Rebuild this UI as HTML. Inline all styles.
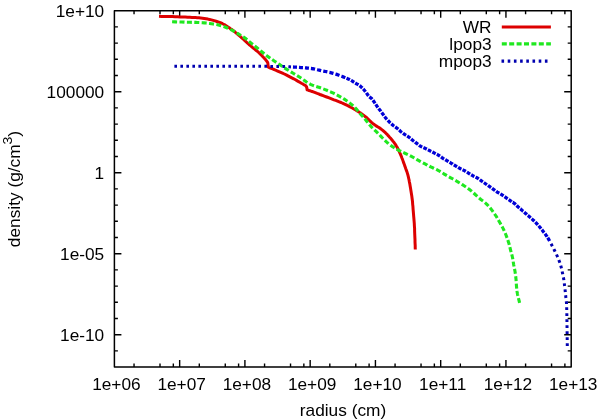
<!DOCTYPE html>
<html><head><meta charset="utf-8"><style>
html,body{margin:0;padding:0;background:#fff;width:600px;height:420px;overflow:hidden}
svg{display:block}
text{font-family:"Liberation Sans",sans-serif;font-size:16.0px;fill:#000}
svg{will-change:transform}
</style></head><body>
<svg width="600" height="420" viewBox="0 0 600 420">
<rect width="600" height="420" fill="#fff"/>
<g fill="none" stroke-linejoin="round">
<path d="M134.04 367.10v-3.5M134.04 10.70v3.5M160.01 367.10v-3.5M160.01 10.70v3.5M173.33 367.10v-3.5M173.33 10.70v3.5M179.66 367.10v-7.0M179.66 10.70v7.0M199.30 367.10v-3.5M199.30 10.70v3.5M225.27 367.10v-3.5M225.27 10.70v3.5M238.59 367.10v-3.5M238.59 10.70v3.5M244.91 367.10v-7.0M244.91 10.70v7.0M264.56 367.10v-3.5M264.56 10.70v3.5M290.53 367.10v-3.5M290.53 10.70v3.5M303.85 367.10v-3.5M303.85 10.70v3.5M310.17 367.10v-7.0M310.17 10.70v7.0M329.82 367.10v-3.5M329.82 10.70v3.5M355.78 367.10v-3.5M355.78 10.70v3.5M369.10 367.10v-3.5M369.10 10.70v3.5M375.43 367.10v-7.0M375.43 10.70v7.0M395.07 367.10v-3.5M395.07 10.70v3.5M421.04 367.10v-3.5M421.04 10.70v3.5M434.36 367.10v-3.5M434.36 10.70v3.5M440.69 367.10v-7.0M440.69 10.70v7.0M460.33 367.10v-3.5M460.33 10.70v3.5M486.30 367.10v-3.5M486.30 10.70v3.5M499.62 367.10v-3.5M499.62 10.70v3.5M505.94 367.10v-7.0M505.94 10.70v7.0M525.59 367.10v-3.5M525.59 10.70v3.5M551.56 367.10v-3.5M551.56 10.70v3.5M564.88 367.10v-3.5M564.88 10.70v3.5M114.40 26.90h3.5M571.20 26.90h-3.5M114.40 43.10h3.5M571.20 43.10h-3.5M114.40 59.30h3.5M571.20 59.30h-3.5M114.40 75.50h3.5M571.20 75.50h-3.5M114.40 91.70h7.0M571.20 91.70h-7.0M114.40 107.90h3.5M571.20 107.90h-3.5M114.40 124.10h3.5M571.20 124.10h-3.5M114.40 140.30h3.5M571.20 140.30h-3.5M114.40 156.50h3.5M571.20 156.50h-3.5M114.40 172.70h7.0M571.20 172.70h-7.0M114.40 188.90h3.5M571.20 188.90h-3.5M114.40 205.10h3.5M571.20 205.10h-3.5M114.40 221.30h3.5M571.20 221.30h-3.5M114.40 237.50h3.5M571.20 237.50h-3.5M114.40 253.70h7.0M571.20 253.70h-7.0M114.40 269.90h3.5M571.20 269.90h-3.5M114.40 286.10h3.5M571.20 286.10h-3.5M114.40 302.30h3.5M571.20 302.30h-3.5M114.40 318.50h3.5M571.20 318.50h-3.5M114.40 334.70h7.0M571.20 334.70h-7.0M114.40 350.90h3.5M571.20 350.90h-3.5" stroke="#000" stroke-width="1.4"/>
<rect x="114.4" y="10.7" width="456.80" height="356.40" stroke="#000" stroke-width="1.5"/>
<path d="M159.0 16.3 L161.7 16.4 L164.4 16.4 L167.0 16.5 L169.7 16.6 L172.4 16.6 L175.0 16.7 L177.6 16.8 L180.1 16.9 L182.7 17.0 L185.2 17.1 L187.7 17.2 L190.0 17.3 L191.9 17.4 L193.7 17.5 L195.5 17.6 L197.2 17.7 L198.9 17.8 L200.7 18.0 L202.5 18.2 L204.3 18.5 L206.1 18.8 L207.9 19.1 L209.6 19.5 L211.4 19.9 L213.2 20.4 L215.1 20.9 L216.9 21.5 L218.7 22.1 L220.4 22.7 L222.0 23.4 L223.1 24.0 L224.2 24.5 L225.2 25.1 L226.1 25.8 L227.1 26.4 L228.0 27.0 L228.9 27.6 L229.7 28.1 L230.5 28.7 L231.3 29.2 L232.1 29.8 L232.9 30.4 L233.8 31.0 L234.6 31.7 L235.4 32.4 L236.3 33.1 L237.1 33.8 L238.0 34.5 L238.9 35.3 L239.9 36.1 L240.8 37.0 L241.7 37.8 L242.7 38.7 L243.6 39.5 L244.5 40.3 L245.4 41.2 L246.3 42.0 L247.2 42.8 L248.1 43.7 L249.0 44.5 L250.1 45.4 L251.3 46.4 L252.4 47.4 L253.6 48.3 L254.7 49.2 L255.7 50.0 L256.3 50.5 L256.8 50.9 L257.4 51.3 L257.9 51.8 L258.4 52.2 L259.0 52.8 L260.1 53.9 L261.5 55.3 L262.9 56.8 L264.3 58.2 L265.5 59.6 L266.4 60.7 L266.7 61.1 L267.0 61.5 L267.2 61.9 L267.4 62.2 L267.6 62.5 L267.8 62.9 L267.8 62.9 L268.3 67.2 L269.8 67.8 L271.2 68.4 L272.6 68.9 L274.1 69.5 L275.6 70.2 L277.1 70.8 L278.9 71.6 L280.7 72.4 L282.5 73.2 L284.3 74.0 L286.2 74.9 L288.0 75.8 L289.9 76.8 L291.8 77.8 L293.7 78.8 L295.5 79.8 L297.3 80.9 L299.0 81.8 L300.2 82.5 L301.4 83.2 L302.5 83.8 L303.6 84.5 L304.7 85.1 L305.8 85.8 L306.0 86.1 L306.1 86.3 L306.3 86.6 L306.4 86.8 L306.6 87.1 L306.7 87.4 L306.8 87.8 L306.9 88.2 L306.9 88.6 L307.0 89.0 L307.0 89.4 L307.1 89.8 L307.1 89.8 L308.1 90.1 L309.1 90.5 L310.2 90.8 L311.2 91.2 L312.2 91.5 L313.3 91.9 L314.6 92.4 L315.9 92.9 L317.2 93.4 L318.6 93.9 L320.0 94.5 L321.4 95.0 L323.1 95.6 L324.9 96.3 L326.7 97.0 L328.5 97.7 L330.4 98.4 L332.2 99.1 L334.0 99.8 L335.7 100.4 L337.5 101.1 L339.3 101.8 L341.1 102.5 L342.9 103.3 L345.1 104.3 L347.3 105.4 L349.6 106.6 L351.8 107.8 L353.9 109.0 L355.7 110.0 L356.7 110.6 L357.7 111.2 L358.5 111.7 L359.3 112.3 L360.2 112.8 L361.0 113.4 L361.9 114.0 L362.8 114.7 L363.8 115.4 L364.7 116.1 L365.5 116.8 L366.4 117.5 L367.2 118.2 L367.9 118.9 L368.6 119.6 L369.3 120.3 L370.0 121.0 L370.7 121.6 L371.2 122.1 L371.7 122.5 L372.2 123.0 L372.7 123.4 L373.3 123.8 L373.9 124.3 L375.0 125.1 L376.2 125.9 L377.5 126.7 L378.9 127.6 L380.2 128.4 L381.4 129.3 L382.4 130.1 L383.3 130.8 L384.2 131.6 L385.1 132.4 L385.9 133.2 L386.8 134.1 L387.7 135.1 L388.7 136.1 L389.6 137.2 L390.6 138.2 L391.4 139.3 L392.2 140.2 L392.7 140.9 L393.2 141.5 L393.7 142.0 L394.1 142.6 L394.5 143.2 L395.0 143.9 L395.5 144.7 L396.1 145.6 L396.6 146.5 L397.2 147.4 L397.7 148.3 L398.2 149.3 L398.8 150.4 L399.3 151.6 L399.8 152.8 L400.4 154.1 L400.9 155.3 L401.4 156.6 L401.9 158.0 L402.5 159.4 L403.0 160.9 L403.5 162.4 L404.1 163.9 L404.6 165.4 L405.2 167.0 L405.7 168.5 L406.3 170.1 L406.9 171.7 L407.4 173.4 L407.9 175.0 L408.3 176.7 L408.7 178.5 L409.1 180.2 L409.4 182.0 L409.8 183.8 L410.1 185.7 L410.5 188.0 L410.9 190.4 L411.3 192.9 L411.7 195.4 L412.0 197.8 L412.3 200.0 L412.5 201.6 L412.6 203.2 L412.7 204.6 L412.9 206.1 L413.0 207.7 L413.1 209.3 L413.3 211.5 L413.5 213.8 L413.7 216.3 L413.9 218.7 L414.1 221.2 L414.3 223.6 L414.4 226.0 L414.6 228.4 L414.6 230.8 L414.7 233.2 L414.8 235.6 L414.9 237.9 L415.0 239.9 L415.0 241.9 L415.1 243.8 L415.2 245.7 L415.2 247.6 L415.3 249.5" stroke="#dd0000" stroke-width="3"/>
<path d="M172.10 21.80L175.14 21.88L177.10 21.94M179.50 22.01L181.34 22.06L184.37 22.14L184.50 22.15M186.89 22.21L187.28 22.22L190.00 22.30L191.89 22.34M194.29 22.38L195.52 22.40L197.24 22.44L198.95 22.50L199.29 22.52M201.69 22.67L202.49 22.72L204.27 22.87L206.06 23.03L206.67 23.10M209.05 23.37L209.62 23.44L211.40 23.70L213.18 23.98L214.00 24.11M216.36 24.53L216.74 24.60L218.50 24.97L220.26 25.39L221.22 25.67M223.50 26.42L223.79 26.52L225.60 27.22L227.39 27.99L228.12 28.33M230.29 29.35L230.82 29.61L232.40 30.40L233.60 31.04L234.72 31.67M236.78 32.91L236.87 32.97L237.92 33.63L239.00 34.30L240.14 35.00L241.03 35.54M243.06 36.82L243.59 37.16L244.68 37.88L245.70 38.60L246.48 39.20L247.12 39.73M248.94 41.30L249.26 41.58L250.00 42.20L250.88 42.91L251.77 43.61L252.69 44.33L252.83 44.44M254.72 45.92L255.70 46.70L257.29 47.99L258.59 49.08M260.44 50.61L260.83 50.93L262.69 52.47L264.31 53.77M266.20 55.25L266.40 55.40L268.17 56.71L269.94 57.98L270.24 58.19M272.21 59.57L273.52 60.46L275.31 61.68L276.34 62.38M278.33 63.74L278.88 64.11L280.65 65.31L282.43 66.50L282.47 66.53M284.47 67.85L286.00 68.85L287.80 70.00L288.69 70.55M290.74 71.80L291.37 72.18L293.16 73.23L294.96 74.29L295.04 74.34M297.10 75.57L298.60 76.50L300.56 77.79L301.29 78.30M303.25 79.68L304.51 80.57L306.50 81.94L307.38 82.49M309.45 83.72L310.50 84.30L312.31 85.12L314.00 85.76M316.28 86.51L317.77 86.97L319.59 87.56L321.03 88.07M323.28 88.92L325.02 89.59L326.83 90.30L327.93 90.75M330.14 91.68L330.42 91.79L332.20 92.60L334.03 93.47L334.67 93.80M336.81 94.88L337.70 95.35L339.50 96.33L341.20 97.29M343.25 98.52L344.28 99.16L345.62 100.04L346.91 100.92L347.42 101.28M349.36 102.70L350.50 103.60L351.45 104.38L352.35 105.16L353.18 105.92M354.91 107.59L355.70 108.40L356.53 109.29L357.34 110.22L358.13 111.16L358.25 111.30M359.78 113.15L360.50 114.00L361.31 114.93L362.12 115.85L362.94 116.77L363.07 116.92M364.65 118.72L365.40 119.60L366.27 120.66L367.14 121.76L367.80 122.60M369.31 124.47L369.79 125.06L370.70 126.10L371.58 127.03L372.48 127.93L372.70 128.14M374.44 129.79L375.20 130.52L376.10 131.40L376.99 132.29L377.87 133.19L377.99 133.31M379.66 135.03L380.51 135.90L381.40 136.80L382.29 137.71L383.16 138.61M384.83 140.33L384.97 140.47L385.88 141.36L386.80 142.20L387.68 142.96L388.55 143.67M390.45 145.14L391.29 145.75L392.20 146.40L393.07 147.00L393.95 147.58L394.57 147.97M396.62 149.21L397.50 149.70L398.38 150.16L399.25 150.60L400.12 151.01L401.02 151.42L401.09 151.46M403.26 152.47L404.13 152.88L405.42 153.47L406.76 154.09L407.80 154.58M409.95 155.62L410.70 156.00L411.85 156.62L412.98 157.25L414.09 157.89L414.33 158.03M416.41 159.24L417.40 159.80L418.50 160.41L419.60 161.02L420.69 161.62L420.78 161.67M422.89 162.81L422.89 162.81L424.00 163.40L425.11 163.98L426.21 164.55L427.32 165.11L427.33 165.12M429.47 166.19L429.56 166.24L430.70 166.80L431.92 167.39L433.18 167.97L433.98 168.35M436.15 169.37L436.89 169.73L438.00 170.30L438.82 170.75L439.57 171.20L440.30 171.64L440.53 171.78M442.57 173.04L443.38 173.53L444.27 174.07L445.18 174.62L446.10 175.18L446.85 175.63M448.93 176.83L449.08 176.91L450.19 177.52L451.32 178.13L452.46 178.75L453.32 179.22M455.41 180.41L455.76 180.61L456.79 181.22L457.81 181.83L458.85 182.46L459.70 182.98M461.73 184.26L462.35 184.65L463.74 185.53L465.16 186.45L465.93 186.96M467.91 188.32L468.05 188.42L469.50 189.50L471.20 190.88L471.83 191.43M473.62 193.02L474.70 194.00L476.44 195.59L477.31 196.39M479.11 197.98L479.70 198.50L480.89 199.47L482.05 200.37L483.02 201.10M484.90 202.58L485.30 202.91L486.30 203.80L487.16 204.63L487.96 205.46L488.50 206.05M490.07 207.86L490.24 208.06L491.00 209.00L491.87 210.12L492.75 211.30L493.12 211.82M494.50 213.79L495.31 215.00L496.10 216.20L496.77 217.26L497.21 217.99M498.42 220.06L498.60 220.38L499.20 221.43L499.80 222.50L500.45 223.64L500.88 224.41M502.05 226.51L502.41 227.16L503.02 228.34L503.60 229.50L504.10 230.57L504.28 230.98M505.23 233.19L505.45 233.73L505.87 234.80L506.30 235.90L506.76 237.12L507.03 237.85M507.84 240.11L508.11 240.91L508.52 242.17L508.90 243.40L509.21 244.48L509.31 244.89M509.88 247.22L509.98 247.64L510.23 248.70L510.50 249.80L510.83 251.04L511.11 252.07M511.74 254.38L511.88 254.92L512.21 256.22L512.50 257.50L512.74 258.72L512.83 259.26M513.20 261.63L513.31 262.38L513.50 263.59L513.70 264.80L513.93 266.00L514.04 266.56M514.52 268.91L514.66 269.60L514.89 270.80L515.10 272.00L515.28 273.20L515.37 273.84M515.68 276.22L515.75 276.80L515.88 278.00L516.00 279.20L516.10 280.40L516.15 281.19M516.30 283.59L516.32 284.00L516.40 285.20L516.50 286.40L516.62 287.59L516.71 288.57M516.99 290.95L517.01 291.14L517.19 292.35L517.40 293.60L517.69 295.07L517.88 295.87M518.44 298.21L518.82 299.69L519.22 301.25L519.60 302.80" stroke="#1fe81f" stroke-width="3.1"/>
<path d="M292.98 67.00L294.24 67.07L296.20 67.20L296.97 67.25M298.97 67.39L299.73 67.45L300.79 67.53L301.84 67.61L302.90 67.70L302.96 67.70M304.95 67.86L305.80 67.93L306.74 68.01L307.67 68.10L308.60 68.20L308.93 68.24M310.92 68.47L311.18 68.50L312.03 68.62L312.89 68.75L313.75 68.90L314.66 69.08L315.06 69.18M317.10 69.68L317.42 69.76L318.34 69.99L319.25 70.20L320.13 70.39L321.00 70.57L321.19 70.62M323.25 71.04L323.61 71.11L324.50 71.30L325.48 71.51L326.49 71.71L327.36 71.89M329.41 72.34L329.52 72.36L330.50 72.60L331.40 72.83L332.29 73.07L333.16 73.31L333.47 73.40M335.48 74.02L335.75 74.10L336.59 74.38L337.42 74.67L338.24 74.97L339.06 75.27L339.44 75.42M341.40 76.17L341.54 76.22L342.37 76.55L343.21 76.88L344.05 77.22L344.88 77.56L345.30 77.73M346.50 78.23L347.29 78.56L348.08 78.90L348.86 79.24L349.63 79.61L349.88 79.73M351.02 80.35L351.18 80.44L351.95 80.92L352.72 81.42L353.48 81.93L354.13 82.35M355.24 83.04L355.73 83.32L356.46 83.73L357.20 84.12L357.92 84.52L358.47 84.85M359.54 85.58L359.94 85.88L360.56 86.38L361.16 86.91L361.75 87.45L362.32 88.01M363.22 88.95L363.51 89.27L364.12 89.98L364.72 90.72L365.30 91.46L365.57 91.81M366.36 92.84L366.40 92.90L366.84 93.51L367.25 94.12L367.65 94.73L368.04 95.31L368.45 95.88L368.46 95.89M369.35 96.83L369.81 97.19L370.29 97.53L370.78 97.89L371.29 98.30L371.80 98.80L372.15 99.23M372.96 100.25L373.52 101.03L374.44 102.38L375.04 103.30M375.76 104.39L376.29 105.19L377.20 106.50L377.88 107.42M378.66 108.46L378.98 108.89L379.87 110.07L380.76 111.22L380.89 111.41M381.68 112.44L382.40 113.40L382.99 114.21L383.54 114.98L383.86 115.43M384.62 116.49L385.13 117.18L385.70 117.90L386.30 118.63L386.92 119.35L386.94 119.37M387.81 120.33L388.20 120.76L388.85 121.44L389.50 122.10L390.12 122.71L390.40 122.97M391.36 123.85L391.38 123.87L392.02 124.42L392.66 124.97L393.30 125.50L393.93 125.99L394.22 126.20M395.27 126.96L395.83 127.35L396.47 127.81L397.10 128.30L397.75 128.84L398.19 129.23M399.16 130.10L399.70 130.58L400.35 131.16L401.00 131.70L401.63 132.20L401.99 132.47M403.03 133.25L403.52 133.60L404.16 134.05L404.80 134.50L405.44 134.93L406.09 135.33M407.20 136.01L407.41 136.14L408.06 136.55L408.70 137.00L409.36 137.50L410.01 138.03L410.19 138.18M411.18 139.02L411.31 139.13L411.95 139.67L412.60 140.20L413.23 140.70L413.87 141.18L414.07 141.34M415.11 142.12L415.13 142.14L415.77 142.62L416.40 143.10L417.02 143.59L417.64 144.09L418.02 144.40M419.04 145.20L419.52 145.56L420.20 146.00L420.95 146.43L421.74 146.82L422.24 147.05M423.43 147.58L424.19 147.92L425.00 148.30L425.80 148.69L426.60 149.09L426.76 149.17M427.93 149.75L428.21 149.90L429.00 150.30L429.80 150.70L430.59 151.10L431.23 151.42M432.39 152.01L432.95 152.30L433.73 152.70L434.50 153.10L435.23 153.48L435.68 153.71M436.83 154.30L437.39 154.59L438.10 154.99L438.80 155.40L439.51 155.86L440.01 156.20M441.07 156.95L441.60 157.34L442.30 157.83L443.00 158.30L443.70 158.74L444.14 159.00M445.26 159.66L445.80 159.98L446.50 160.39L447.20 160.80L447.89 161.22L448.44 161.56M449.55 162.23L449.93 162.47L450.61 162.88L451.30 163.30L452.00 163.72L452.70 164.13L452.72 164.15M453.83 164.81L454.10 164.97L454.80 165.38L455.50 165.80L456.19 166.22L456.88 166.64L457.01 166.72M458.12 167.39L458.27 167.48L458.97 167.89L459.70 168.30L460.51 168.72L461.35 169.14L461.37 169.15M462.54 169.71L463.06 169.96L463.90 170.37L464.70 170.80L465.41 171.21L465.81 171.45M466.92 172.13L467.45 172.46L468.12 172.88L468.80 173.30L469.49 173.72L470.07 174.07M471.18 174.74L471.57 174.97L472.27 175.39L473.00 175.80L473.82 176.24L474.41 176.53M475.58 177.11L476.40 177.52L477.23 177.95L478.00 178.40L478.60 178.79L478.80 178.93M479.84 179.70L480.20 179.98L480.74 180.39L481.30 180.80L481.97 181.28L482.66 181.76L482.83 181.88M483.90 182.63L484.08 182.76L484.79 183.26L485.50 183.75L486.20 184.24L486.90 184.73L486.93 184.75M487.99 185.50L488.30 185.72L489.00 186.21L489.70 186.70L490.39 187.18L491.01 187.63M492.07 188.38L492.43 188.64L493.11 189.12L493.80 189.60L494.50 190.09L495.10 190.52M496.16 191.26L496.59 191.56L497.29 192.04L498.00 192.50L498.70 192.93L499.27 193.27M500.40 193.92L500.81 194.15L501.51 194.57L502.20 195.00L502.89 195.46L503.52 195.90M504.57 196.66L504.93 196.92L505.61 197.41L506.30 197.90L506.99 198.38L507.59 198.80M508.66 199.54L509.09 199.83L509.79 200.31L510.50 200.80L511.25 201.31L511.72 201.62M512.81 202.33L512.82 202.33L513.58 202.85L514.32 203.37L515.00 203.90L515.53 204.36L515.75 204.57M516.67 205.48L516.93 205.75L517.40 206.22L517.90 206.70L518.50 207.24L519.11 207.78L519.38 208.00M520.36 208.85L520.40 208.87L521.05 209.43L521.70 210.00L522.41 210.62L523.12 211.26L523.15 211.28M524.12 212.14L524.58 212.54L525.29 213.18L526.00 213.80L526.65 214.36L526.90 214.59M527.89 215.44L527.92 215.46L528.54 216.00L529.17 216.55L529.80 217.10L530.44 217.66L530.68 217.87M531.65 218.73L531.72 218.79L532.36 219.36L532.99 219.93L533.60 220.50L534.17 221.04L534.37 221.24M535.30 222.15L535.82 222.67L536.36 223.23L536.90 223.80L537.46 224.41L537.84 224.84M538.70 225.81L539.11 226.30L539.65 226.94L540.20 227.60L540.77 228.30L541.06 228.66M541.87 229.67L541.93 229.74L542.50 230.47L543.06 231.19L543.60 231.90L544.09 232.55L544.13 232.60M544.91 233.64L545.06 233.84L545.53 234.47L545.97 235.09L546.40 235.70L546.74 236.19L547.05 236.64L547.06 236.66M547.77 237.74L547.96 238.04L548.30 238.60L548.87 239.59L549.48 240.70L549.62 240.95" stroke="#0000d8" stroke-width="3.3"/>
<path d="M174.40 66.20L177.00 66.20M180.40 66.21L183.00 66.22M186.40 66.22L189.00 66.23M192.40 66.23L195.00 66.24M198.40 66.24L201.00 66.25M204.40 66.26L207.00 66.26M210.40 66.27L213.00 66.27M216.40 66.28L219.00 66.28M222.40 66.29L225.00 66.29M228.40 66.30L231.00 66.30M234.40 66.31L237.00 66.32M240.40 66.32L243.00 66.33M246.40 66.33L249.00 66.34M252.40 66.34L255.00 66.35M258.40 66.35L261.00 66.36M264.40 66.37L267.00 66.37M270.40 66.38L273.00 66.38M276.40 66.39L279.00 66.39M282.40 66.40L282.90 66.40L285.00 66.52M288.39 66.72L289.83 66.81L290.99 66.88M551.11 243.78L551.45 244.44L552.10 245.70L552.39 246.27M553.86 249.11L554.31 250.00L555.04 251.46L555.12 251.62M556.49 254.50L556.94 255.50L557.47 256.68L557.63 257.06M558.85 260.02L558.88 260.10L559.30 261.20L559.63 262.11L559.82 262.65M560.78 265.70L561.00 266.50L561.28 267.56L561.48 268.41M562.17 271.54L562.27 272.01L562.50 273.10L562.72 274.10L562.75 274.27M563.41 277.41L563.53 278.02L563.70 279.00L563.86 280.00L563.88 280.17M564.30 283.34L564.38 284.00L564.50 285.00L564.62 286.00L564.64 286.12M565.01 289.30L565.09 290.00L565.20 291.00L565.31 291.99L565.31 292.08M565.63 295.26L565.70 295.93L565.80 296.90L565.90 297.81L565.93 298.05M566.30 301.23L566.32 301.39L566.40 302.30L566.47 303.23L566.52 304.02M566.67 307.21L566.70 308.20L566.75 310.01M566.82 313.21L566.87 315.95L566.87 316.01M566.92 319.21L566.95 321.99L566.95 322.01M567.00 325.21L567.05 328.01M567.09 331.21L567.10 331.83L567.13 334.01M567.18 337.21L567.20 338.91L567.22 340.01M567.26 343.21L567.30 346.00" stroke="#0000b0" stroke-width="3"/>
<path d="M501.8 27H550.9" stroke="#dd0000" stroke-width="3"/>
<path d="M501.8 43.9H550.9" stroke="#1fe81f" stroke-width="3.2" stroke-dasharray="5 2.4"/>
<path d="M501.5 61.1H549" stroke="#0000b0" stroke-width="3.2" stroke-dasharray="2.6 3.6"/>
</g>
<text x="0" y="0" text-anchor="end" transform="translate(104.20 16.60) scale(1.08 1)" >1e+10</text><text x="0" y="0" text-anchor="end" transform="translate(104.20 97.60) scale(1.08 1)" >100000</text><text x="0" y="0" text-anchor="end" transform="translate(104.20 178.60) scale(1.08 1)" >1</text><text x="0" y="0" text-anchor="end" transform="translate(104.20 259.60) scale(1.08 1)" >1e-05</text><text x="0" y="0" text-anchor="end" transform="translate(104.20 340.60) scale(1.08 1)" >1e-10</text><text x="0" y="0" text-anchor="middle" transform="translate(116.40 389.50) scale(1.08 1)" >1e+06</text><text x="0" y="0" text-anchor="middle" transform="translate(181.66 389.50) scale(1.08 1)" >1e+07</text><text x="0" y="0" text-anchor="middle" transform="translate(246.91 389.50) scale(1.08 1)" >1e+08</text><text x="0" y="0" text-anchor="middle" transform="translate(312.17 389.50) scale(1.08 1)" >1e+09</text><text x="0" y="0" text-anchor="middle" transform="translate(377.43 389.50) scale(1.08 1)" >1e+10</text><text x="0" y="0" text-anchor="middle" transform="translate(442.69 389.50) scale(1.08 1)" >1e+11</text><text x="0" y="0" text-anchor="middle" transform="translate(507.94 389.50) scale(1.08 1)" >1e+12</text><text x="0" y="0" text-anchor="middle" transform="translate(573.20 389.50) scale(1.08 1)" >1e+13</text><text x="0" y="0" text-anchor="middle" transform="translate(343.00 415.50) scale(1.08 1)" >radius (cm)</text><text x="0" y="0" text-anchor="end" transform="translate(491.60 32.70) scale(1.08 1)" >WR</text><text x="0" y="0" text-anchor="end" transform="translate(491.60 49.90) scale(1.08 1)" >lpop3</text><text x="0" y="0" text-anchor="end" transform="translate(491.60 67.10) scale(1.08 1)" >mpop3</text>
<text x="0" y="0" text-anchor="middle" transform="translate(20.3 189.0) rotate(-90) scale(1.08 1)">density (g/cm<tspan dy="-8.8" font-size="13">3</tspan><tspan dy="8.8">)</tspan></text>
</svg>
</body></html>
